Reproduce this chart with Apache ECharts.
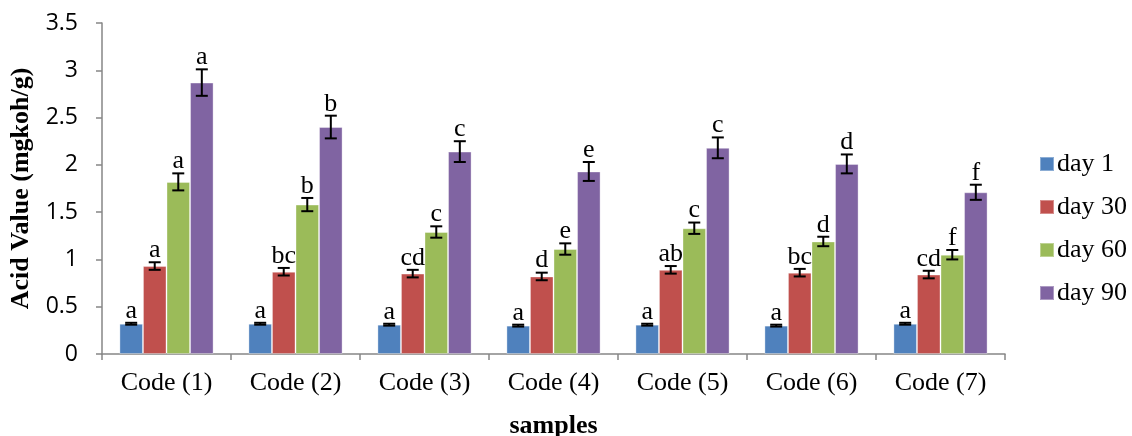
<!DOCTYPE html>
<html>
<head>
<meta charset="utf-8">
<script src="https://cdn.jsdelivr.net/npm/echarts@6/dist/echarts.min.js"></script>
<style>
  html, body { margin: 0; padding: 0; background: #fff; }
  #main { width: 1132px; height: 436px; }
</style>
</head>
<body>
<div id="main"></div>
<script>
const categories = ["Code (1)", "Code (2)", "Code (3)", "Code (4)", "Code (5)", "Code (6)", "Code (7)"];
const seriesNames = ["day 1", "day 30", "day 60", "day 90"];

const day1 = [0.32, 0.32, 0.31, 0.30, 0.31, 0.30, 0.32];
const day30 = [0.93, 0.87, 0.85, 0.82, 0.89, 0.86, 0.84];
const day60 = [1.82, 1.58, 1.29, 1.11, 1.33, 1.19, 1.05];
const day90 = [2.87, 2.40, 2.14, 1.93, 2.18, 2.01, 1.71];

const err1 = [0.01, 0.01, 0.01, 0.01, 0.01, 0.01, 0.01];
const err30 = [0.04, 0.04, 0.04, 0.04, 0.04, 0.04, 0.04];
const err60 = [0.09, 0.07, 0.06, 0.06, 0.06, 0.05, 0.05];
const err90 = [0.14, 0.12, 0.11, 0.10, 0.11, 0.10, 0.08];

const letters1 = ["a", "a", "a", "a", "a", "a", "a"];
const letters30 = ["a", "bc", "cd", "d", "ab", "bc", "cd"];
const letters60 = ["a", "b", "c", "e", "c", "d", "f"];
const letters90 = ["a", "b", "c", "e", "c", "d", "f"];

const colors = ["#4F81BD", "#C0504D", "#9BBB59", "#8064A2"];
const values = [day1, day30, day60, day90];
const errors = [err1, err30, err60, err90];
const letters = [letters1, letters30, letters60, letters90];

const CAT_GAP = 0.27;
const serif = "'Liberation Serif', 'Times New Roman', serif";

// error bars + significance letters drawn on top of the bars
function errorSeries(k) {
  const data = categories.map((c, i) => [i, values[k][i], errors[k][i], letters[k][i]]);
  return {
    type: 'custom',
    name: seriesNames[k] + ' err',
    z: 10,
    silent: true,
    data: data,
    renderItem: function (params, api) {
      const idx = api.value(0);
      const v = api.value(1);
      const e = api.value(2);
      const band = api.size([1, 0])[0];
      const barW = band * (1 - CAT_GAP) / 4;
      const center = api.coord([idx, 0])[0] + (k - 1.5) * barW;
      const hi = api.coord([idx, v + e])[1];
      const lo = api.coord([idx, v - e])[1];
      const cap = 6;
      const style = { stroke: '#000', lineWidth: 2 };
      return {
        type: 'group',
        children: [
          { type: 'line', shape: { x1: center, y1: hi, x2: center, y2: lo }, style: style },
          { type: 'line', shape: { x1: center - cap, y1: hi, x2: center + cap, y2: hi }, style: style },
          { type: 'line', shape: { x1: center - cap, y1: lo, x2: center + cap, y2: lo }, style: style },
          {
            type: 'text',
            style: {
              text: data[idx][3],
              x: center, y: hi + 1,
              align: 'center', verticalAlign: 'bottom',
              font: '26px ' + serif,
              fill: '#000'
            }
          }
        ]
      };
    }
  };
}

const chart = echarts.init(document.getElementById('main'));

const barSeries = seriesNames.map((name, k) => ({
  type: 'bar',
  name: name,
  data: values[k],
  barGap: 0,
  barCategoryGap: (CAT_GAP * 100) + '%',
  itemStyle: { color: colors[k], borderColor: 'rgba(255,255,255,0.35)', borderWidth: 1 }
}));

chart.setOption({
  animation: false,
  grid: { left: 102, right: 127, top: 23, bottom: 82, outerBoundsMode: 'none', containLabel: false },
  legend: {
    data: seriesNames,
    orient: 'vertical',
    left: 1034,
    top: 146,
    itemWidth: 14,
    itemHeight: 14,
    itemGap: 17,
    icon: 'rect',
    textStyle: { fontFamily: serif, fontSize: 26, color: '#000', padding: [0, 0, 0, -2] }
  },
  xAxis: {
    type: 'category',
    data: categories,
    name: 'samples',
    nameLocation: 'middle',
    nameGap: 59,
    nameTextStyle: { fontFamily: serif, fontSize: 26, fontWeight: 'bold', color: '#000' },
    axisLine: { lineStyle: { color: '#868686', width: 1.5 } },
    axisTick: { show: true, length: 6, lineStyle: { color: '#868686', width: 1.5 } },
    axisLabel: { fontFamily: serif, fontSize: 26, color: '#000', margin: 16 }
  },
  yAxis: {
    type: 'value',
    min: 0,
    max: 3.5,
    interval: 0.5,
    name: 'Acid Value (mgkoh/g)',
    nameLocation: 'middle',
    nameGap: 65,
    nameTextStyle: { fontFamily: serif, fontSize: 26, fontWeight: 'bold', color: '#000' },
    axisLine: { show: true, lineStyle: { color: '#868686', width: 1.5 } },
    axisTick: { show: true, length: 6, lineStyle: { color: '#868686', width: 1.5 } },
    splitLine: { show: false },
    axisLabel: { fontFamily: "'Open Sans', 'Liberation Sans', sans-serif", fontSize: 23, color: '#000', margin: 24 }
  },
  series: barSeries.concat(seriesNames.map((n, k) => errorSeries(k)))
});

window.addEventListener('resize', () => { chart.resize(); });
</script>
</body>
</html>
